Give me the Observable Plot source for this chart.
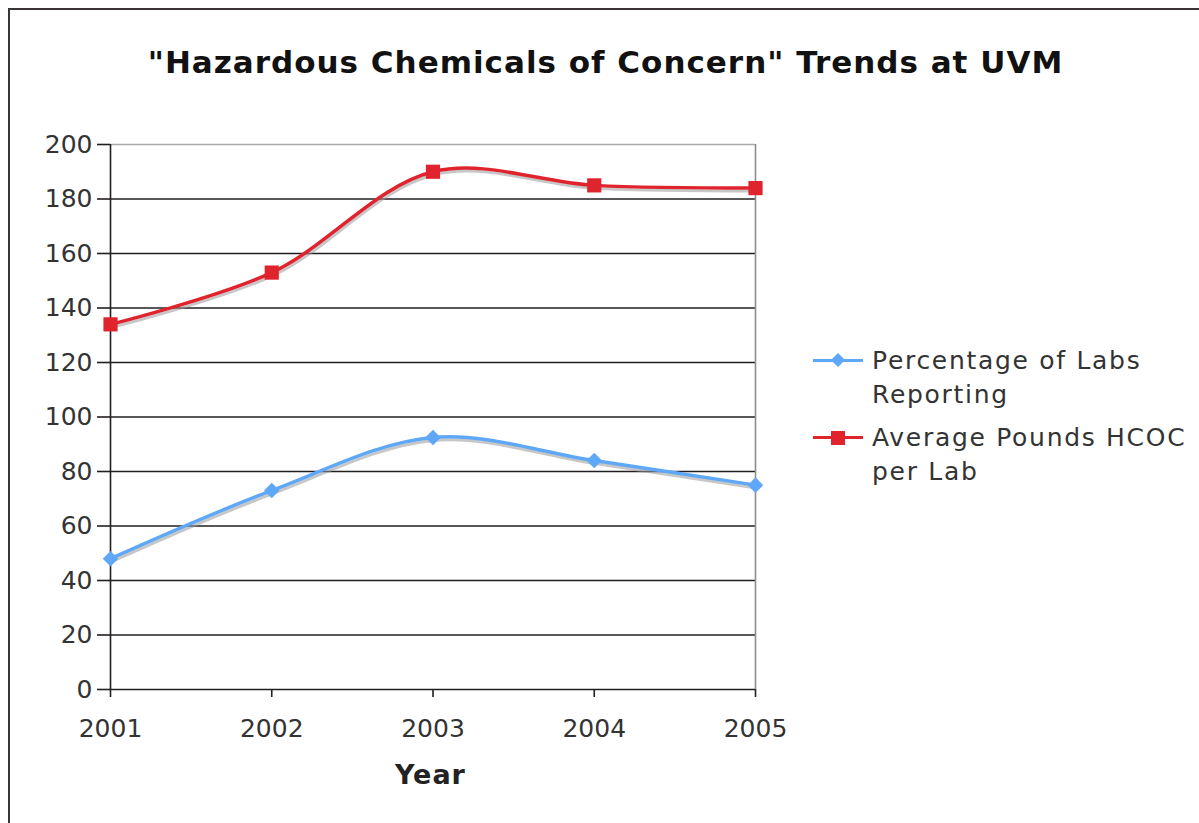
<!DOCTYPE html>
<html>
<head>
<meta charset="utf-8">
<script src="https://cdn.jsdelivr.net/npm/d3@7"></script>
<script src="https://cdn.jsdelivr.net/npm/@observablehq/plot@0.6"></script>
<style>
  body { margin: 0; background: #fff; }
  #wrap { position: relative; width: 1199px; height: 823px; overflow: hidden; background: #fff; font-family: "DejaVu Sans", Verdana, sans-serif; }
  #frame { position: absolute; left: 8px; top: 8px; width: 1300px; height: 900px; border: 2px solid #3a3434; border-right: none; border-bottom: none; box-sizing: border-box; }
  #title { position: absolute; left: 0; width: 1211px; top: 44px; text-align: center; font-weight: bold; font-size: 31px; letter-spacing: 1px; color: #111; white-space: nowrap; }
  #xlabel { position: absolute; left: 395px; top: 759px; font-weight: bold; font-size: 27px; letter-spacing: 1px; color: #222; }
  #legend { position: absolute; left: 813px; top: 344px; font-size: 25px; color: #333; letter-spacing: 1.7px; }
  .item { position: relative; padding-left: 59px; line-height: 34px; }
  .item + .item { margin-top: 9px; }
  .sw { position: absolute; left: 0; top: 15px; width: 50px; height: 3px; }
  .mk { position: absolute; }
  #chart { position: absolute; left: 0; top: 0; }
</style>
</head>
<body>
<div id="wrap">
  <div id="frame"></div>
  <div id="title">"Hazardous Chemicals of Concern" Trends at UVM</div>
  <div id="chart"></div>
  <div id="xlabel">Year</div>
  <div id="legend"></div>
</div>
<script>
const years = [2001, 2002, 2003, 2004, 2005];
const seriesNames = ["Percentage of Labs Reporting", "Average Pounds HCOC per Lab"];
const pctLabsReporting = [48, 73, 92.5, 84, 75];
const avgPoundsPerLab = [134, 153, 190, 185, 184];
const yTicks = [0, 20, 40, 60, 80, 100, 120, 140, 160, 180, 200];
const colors = ["#5fa8f7", "#e0242e"];

const data = [];
years.forEach((yr, i) => {
  data.push({year: yr, value: pctLabsReporting[i], series: seriesNames[0]});
  data.push({year: yr, value: avgPoundsPerLab[i], series: seriesNames[1]});
});
const blue = data.filter(d => d.series === seriesNames[0]);
const red = data.filter(d => d.series === seriesNames[1]);

const chart = Plot.plot({
  width: 1199,
  height: 823,
  marginTop: 144,
  marginBottom: 134,
  marginLeft: 110,
  marginRight: 444,
  style: {fontFamily: "DejaVu Sans, Verdana, sans-serif", background: "transparent", overflow: "visible"},
  x: {type: "linear", domain: [2001, 2005]},
  y: {domain: [0, 200]},
  marks: [
    Plot.ruleY(yTicks.filter(v => v < 200), {stroke: "#231f20", strokeWidth: 1.6}),
    Plot.ruleY([200], {stroke: "#aaaaaa", strokeWidth: 1.6}),
    Plot.ruleX([2005], {stroke: "#8c8c8c", strokeWidth: 1.6}),
    Plot.ruleX([2001], {stroke: "#231f20", strokeWidth: 1.6}),
    Plot.axisY({ticks: yTicks, tickSize: 13, tickPadding: 5, fontSize: 25, label: null, stroke: "#231f20", color: "#333", strokeWidth: 1.6}),
    Plot.axisX({ticks: years, tickFormat: d => String(d), tickSize: 8, tickPadding: 22, fontSize: 25, label: null, stroke: "#231f20", color: "#333", strokeWidth: 1.6}),
    // shadows
    Plot.line(blue, {x: "year", y: "value", curve: "catmull-rom", stroke: "#999", strokeOpacity: 0.55, strokeWidth: 3, dx: 1, dy: 3}),
    Plot.line(red, {x: "year", y: "value", curve: "catmull-rom", stroke: "#999", strokeOpacity: 0.55, strokeWidth: 3, dx: 1, dy: 3}),
    Plot.line(blue, {x: "year", y: "value", curve: "catmull-rom", stroke: colors[0], strokeWidth: 3.5}),
    Plot.line(red, {x: "year", y: "value", curve: "catmull-rom", stroke: colors[1], strokeWidth: 3.5}),
    Plot.dot(blue, {x: "year", y: "value", symbol: "diamond2", r: 7, fill: colors[0], stroke: "none"}),
    Plot.dot(red, {x: "year", y: "value", symbol: "square", r: 8, fill: colors[1], stroke: "none"})
  ]
});
document.getElementById("chart").appendChild(chart);

// legend
const legend = document.getElementById("legend");
const legendLines = [["Percentage of Labs", "Reporting"], ["Average Pounds HCOC", "per Lab"]];
seriesNames.forEach((name, i) => {
  const it = document.createElement("div");
  it.className = "item";
  const sw = document.createElement("div");
  sw.className = "sw";
  sw.style.background = colors[i];
  it.appendChild(sw);
  const mk = document.createElement("div");
  mk.className = "mk";
  mk.style.background = colors[i];
  if (i === 0) {
    mk.style.cssText += "left:20px;top:11px;width:10px;height:10px;transform:rotate(45deg);";
  } else {
    mk.style.cssText += "left:18px;top:10px;width:14px;height:14px;";
  }
  it.appendChild(mk);
  const tx = document.createElement("div");
  tx.innerHTML = legendLines[i].join("<br>");
  it.appendChild(tx);
  legend.appendChild(it);
});
</script>
</body>
</html>
